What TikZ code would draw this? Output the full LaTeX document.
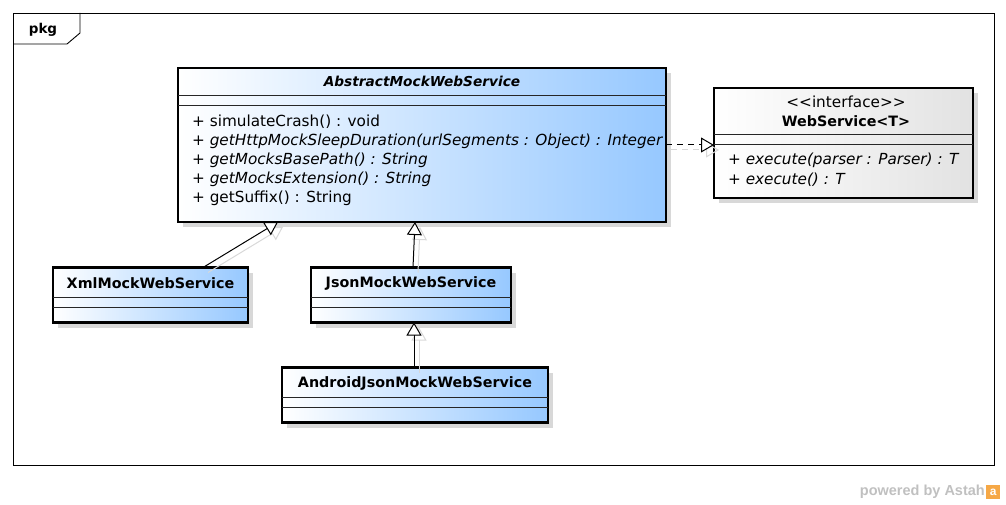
\documentclass[tikz,border=0pt]{standalone}
\usepackage{fontspec}
\setmainfont{DejaVu Sans}
\newfontfamily\brandfont{Liberation Sans}
\usetikzlibrary{arrows.meta,shadows}
\definecolor{classblue}{RGB}{150,200,255}
\definecolor{ifacegray}{RGB}{226,226,226}
\definecolor{shadowgray}{RGB}{216,216,216}
\definecolor{brandgray}{RGB}{192,192,192}
\definecolor{brandorange}{RGB}{246,168,70}
\begin{document}
\begin{tikzpicture}[x=1pt,y=-1pt,
  font=\fontsize{15.25}{18}\selectfont,
  boxshadow/.style={general shadow={fill=shadowgray, shadow xshift=5pt, shadow yshift=-5pt}},
  classbox/.style={draw=black, line width=2.6pt, left color=white, right color=classblue,
    boxshadow, inner sep=0pt, outer sep=0pt},
  ifacebox/.style={draw=black, line width=2.6pt, left color=white, right color=ifacegray,
    boxshadow, inner sep=0pt, outer sep=0pt},
  sepline/.style={draw=black!85, line width=1pt},
  title/.style={font=\fontsize{14.3}{17}\selectfont\bfseries, inner sep=0pt},
  member/.style={anchor=west, inner sep=0pt},
  abstractop/.style={member, font=\fontsize{15.25}{18}\selectfont\itshape},
  gentip/.style={-{Triangle[open, length=13pt, width=15pt, fill=white, line width=1pt]}},
  genline/.style={gentip, draw=black, line width=1pt},
  realline/.style={gentip, draw=black, line width=1pt, dash pattern=on 6pt off 5pt},
  lineshadow/.style={draw=shadowgray, line width=1pt,
    -{Triangle[open, length=13pt, width=15pt, line width=1pt]},
    transform canvas={xshift=5pt, yshift=-5pt}},
]
\useasboundingbox (0,0) rectangle (1006,505);

% package frame with its name tab
\draw[line width=0.9pt] (13,13) rectangle (994,465);
\draw[line width=0.9pt] (13,44) -- (67,44) -- (80,33) -- (80,13);
\node[font=\fontsize{13.5}{15}\selectfont\bfseries, inner sep=0pt] (pkg) at (43,30) {pkg};

% abstract base class
\node[classbox, minimum width=488pt, minimum height=154pt] (abs) at (422,145) {};
\draw[sepline] ([yshift=-28pt]abs.north west) -- ([yshift=-28pt]abs.north east);
\draw[sepline] ([yshift=-38pt]abs.north west) -- ([yshift=-38pt]abs.north east);
\node[title, font=\fontsize{13.7}{16}\selectfont\bfseries\itshape] (absname) at (422,81.5) {AbstractMockWebService};
\node[member] (op1) at (192,122) {+ simulateCrash() : void};
\node[abstractop] (op2) at (192,141) {+ getHttpMockSleepDuration(urlSegments : Object) : Integer};
\node[abstractop] (op3) at (192,160) {+ getMocksBasePath() : String};
\node[abstractop] (op4) at (192,179) {+ getMocksExtension() : String};
\node[member] (op5) at (192,198) {+ getSuffix() : String};

% interface
\node[ifacebox, minimum width=259pt, minimum height=110pt] (ws) at (843.5,143) {};
\draw[sepline] ([yshift=-47pt]ws.north west) -- ([yshift=-47pt]ws.north east);
\draw[sepline] ([yshift=-57pt]ws.north west) -- ([yshift=-57pt]ws.north east);
\node[inner sep=0pt] (stereo) at (846,102) {<\kern0pt<interface>\kern0pt>};
\node[title] (wsname) at (846,121) {WebService<T>};
\node[abstractop] (wsop1) at (728,160) {+ execute(parser : Parser) : T};
\node[abstractop] (wsop2) at (728,180) {+ execute() : T};

% concrete subclasses
\node[classbox, minimum width=195pt, minimum height=55pt] (xml) at (150.5,295) {};
\draw[sepline] ([yshift=-30pt]xml.north west) -- ([yshift=-30pt]xml.north east);
\draw[sepline] ([yshift=-40pt]xml.north west) -- ([yshift=-40pt]xml.north east);
\node[title] (xmlname) at (150.5,283) {XmlMockWebService};

\node[classbox, minimum width=200pt, minimum height=55pt] (json) at (411,295) {};
\draw[sepline] ([yshift=-30pt]json.north west) -- ([yshift=-30pt]json.north east);
\draw[sepline] ([yshift=-40pt]json.north west) -- ([yshift=-40pt]json.north east);
\node[title] (jsonname) at (411,283) {JsonMockWebService};

\node[classbox, minimum width=266pt, minimum height=55pt] (android) at (415,395) {};
\draw[sepline] ([yshift=-30pt]android.north west) -- ([yshift=-30pt]android.north east);
\draw[sepline] ([yshift=-40pt]android.north west) -- ([yshift=-40pt]android.north east);
\node[title] (androidname) at (415,383) {AndroidJsonMockWebService};

% connector shadows
\draw[lineshadow] ([xshift=52.5pt]xml.north) -- ([xshift=-144pt]abs.south);
\draw[lineshadow] ([xshift=2pt]json.north) -- ([xshift=-7pt]abs.south);
\draw[lineshadow] ([xshift=-1pt]android.north) -- ([xshift=3pt]json.south);
\draw[lineshadow, dash pattern=on 6pt off 5pt] (abs.east) -- (abs.east -| ws.west);

% generalizations and realization
\draw[genline] ([xshift=52.5pt]xml.north) -- ([xshift=-144pt]abs.south);
\draw[genline] ([xshift=2pt]json.north) -- ([xshift=-7pt]abs.south);
\draw[genline] ([xshift=-1pt]android.north) -- ([xshift=3pt]json.south);
\draw[realline] (abs.east) -- (abs.east -| ws.west);

% footer mark
\node[font=\brandfont\fontsize{14.5}{16}\selectfont\bfseries, text=brandgray, anchor=east, inner sep=0pt] (brand) at (985,492) {powered by Astah};
\node[fill=brandorange, minimum size=14pt, inner sep=0pt, anchor=west,
  font=\brandfont\fontsize{12}{12}\selectfont\bfseries, text=white] (logo) at (986,492) {a};
\end{tikzpicture}
\end{document}
